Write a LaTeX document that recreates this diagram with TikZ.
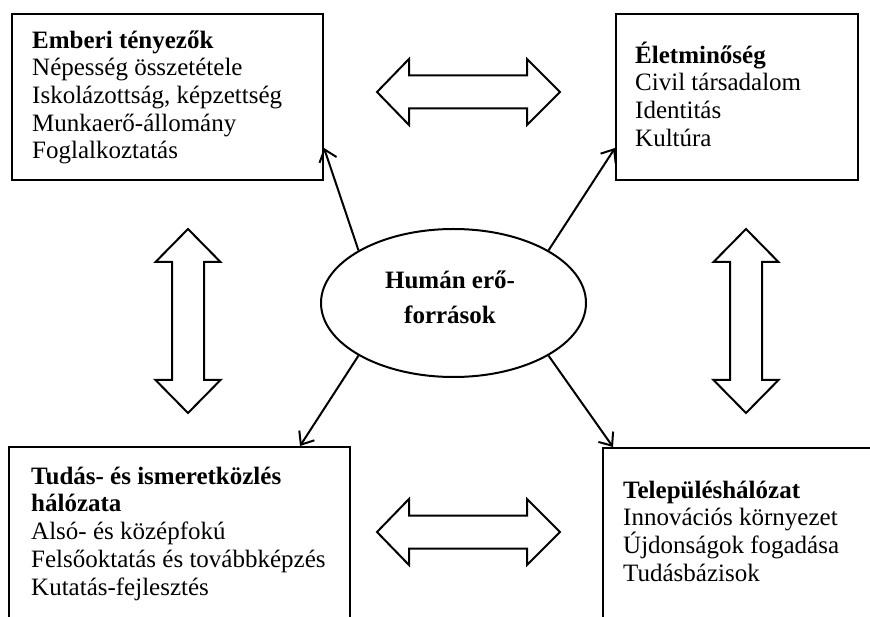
\documentclass[tikz,border=0pt]{standalone}
\usepackage{fontspec}
\setmainfont{Liberation Serif}
\usetikzlibrary{arrows.meta,shapes.geometric,calc}
\newcommand{\fl}{\rule{0pt}{25pt}}
\tikzset{
  box/.style={draw, line width=2pt, inner sep=0pt, anchor=north west},
  txt/.style={anchor=north west, inner sep=0pt, align=left, font=\fontsize{25}{27.7}\selectfont},
  conn/.style={line width=2pt, -{Straight Barb[length=11pt,width=18pt,line width=2pt]}},
  bigarrow/.style={draw, line width=2pt, line join=miter, fill=white}
}
\begin{document}
\begin{tikzpicture}[x=1pt,y=-1pt]
\clip (0,0) rectangle (870,617);
\fill[white] (0,0) rectangle (870,617);
% boxes
\node[box, minimum width=311pt, minimum height=166pt] (tl) at (11,13) {};
\node[box, minimum width=242pt, minimum height=166pt] (tr) at (615,13) {};
\node[box, minimum width=341pt, minimum height=200pt] (bl) at (8,446) {};
\node[box, minimum width=320pt, minimum height=200pt] (br) at (602,447) {};
% texts
\node[txt] (tltext) at (32,23) {\fl\textbf{Emberi tényezők}\\Népesség összetétele\\Iskolázottság, képzettség\\Munkaerő-állomány\\Foglalkoztatás};
\node[txt] (trtext) at (635,38) {\fl\textbf{Életminőség}\\Civil társadalom\\Identitás\\Kultúra};
\node[txt] (bltext) at (31,459) {\fl\textbf{Tudás- és ismeretközlés}\\\textbf{hálózata}\\Alsó- és középfokú\\Felsőoktatás és továbbképzés\\Kutatás-fejlesztés};
\node[txt] (brtext) at (623,473) {\fl\textbf{Településhálózat}\\Innovációs környezet\\Újdonságok fogadása\\Tudásbázisok};
% ellipse
\node[ellipse, draw, line width=2pt, minimum width=265pt, minimum height=148pt, inner sep=0pt] (ell) at (453.5,303) {};
\node[anchor=north, inner sep=0pt, align=center, font=\fontsize{25}{35}\selectfont\bfseries] (elltext) at (450,263) {\fl Humán erő-\\források};
% connectors
\coordinate (ptl) at ($(tl.north east)+(0,135)$);
\coordinate (ptr) at ($(tr.north west)+(0,135)$);
\coordinate (pbl) at ($(bl.north west)+(292,0)$);
\coordinate (pbr) at ($(br.north west)+(11,0)$);
\draw[conn] (ell.151) -- (ptl);
\draw[conn] (ell.29) -- (ptr);
\draw[conn] (ell.209) -- (pbl);
\draw[conn] (ell.331) -- (pbr);
% big double arrows
\draw[bigarrow] (188,229) -- (220.5,262) -- (204,262) -- (204,380) -- (220.5,380) -- (188,413) -- (155.5,380) -- (172,380) -- (172,262) -- (155.5,262) -- cycle;
\draw[bigarrow] (746,229) -- (778.5,262) -- (762,262) -- (762,380) -- (778.5,380) -- (746,413) -- (713.5,380) -- (730,380) -- (730,262) -- (713.5,262) -- cycle;
\draw[bigarrow] (377,92) -- (409,59) -- (409,75.5) -- (527,75.5) -- (527,59) -- (560,92) -- (527,125) -- (527,108.5) -- (409,108.5) -- (409,125) -- cycle;
\draw[bigarrow] (377,532) -- (409,499) -- (409,515.5) -- (527,515.5) -- (527,499) -- (560,532) -- (527,565) -- (527,548.5) -- (409,548.5) -- (409,565) -- cycle;
\end{tikzpicture}
\end{document}
